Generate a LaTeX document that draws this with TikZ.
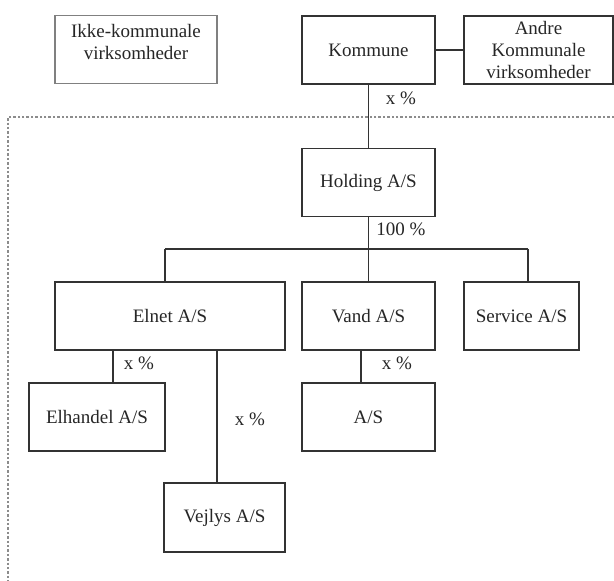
\documentclass[tikz,border=0pt]{standalone}
\usepackage{fontspec}
\setmainfont{Liberation Serif}
\tikzset{
  unit/.style={draw=black!80, line width=0.8pt, text=black!85, minimum height=34pt, inner sep=1pt, align=center},
  pct/.style={text=black!85, inner sep=0pt},
  link/.style={draw=black!80, line width=0.8pt},
  border/.style={draw=black!45, line width=0.6pt, dash pattern=on 1.2pt off 1pt}
}
\begin{document}
\begin{tikzpicture}[x=0.5pt,y=-0.5pt,font=\fontsize{9.5}{10.8}\selectfont]
  \useasboundingbox (0,0) rectangle (614,581);
  \draw[border] (614,117) -- (8,117) -- (8,581);
  \draw
    (136,49.5) node[unit, draw=black!50, line width=0.6pt, minimum width=81pt] (ikke){Ikke-kommunale\\virksomheder\\[-6.5pt]\strut}
    (368.5,50) node[unit, minimum width=66.5pt] (kommune){Kommune}
    (538.5,50) node[unit, minimum width=74.5pt] (andre){Andre\\Kommunale\\virksomheder}
    (368.5,182.5) node[unit, minimum width=66.5pt] (holding){Holding A/S}
    (170,316) node[unit, minimum width=115pt] (elnet){Elnet A/S}
    (368.5,316) node[unit, minimum width=66.5pt] (vand){Vand A/S}
    (521.5,316) node[unit, minimum width=57.5pt] (service){Service A/S}
    (97,417) node[unit, minimum width=68pt] (elhandel){Elhandel A/S}
    (368.5,417) node[unit, minimum width=66.5pt] (as){A/S}
    (224.5,517.5) node[unit, minimum width=60.5pt, minimum height=34.5pt] (vejlys){Vejlys A/S};
  \draw
    (401,98) node[pct] (p1){x \%}
    (401,229) node[pct] (p2){100 \%}
    (139,363) node[pct] (p3){x \%}
    (397,363) node[pct] (p4){x \%}
    (250,419) node[pct] (p5){x \%};
  \coordinate (busw) at (165,249);
  \coordinate (buse) at (528,249);
  \begin{scope}[link]
    \draw (kommune) to (andre);
    \draw (kommune) to (holding);
    \draw (holding) to (vand);
    \draw (busw) to (buse);
    \draw (busw) to (busw |- elnet.north);
    \draw (buse) to (buse |- service.north);
    \draw ([xshift=8pt]elhandel.north) to ([xshift=8pt]elhandel.north |- elnet.south);
    \draw ([xshift=-3.75pt]vejlys.north) to ([xshift=-3.75pt]vejlys.north |- elnet.south);
    \draw ([xshift=-3.75pt]as.north) to ([xshift=-3.75pt]as.north |- vand.south);
  \end{scope}
\end{tikzpicture}
\end{document}
